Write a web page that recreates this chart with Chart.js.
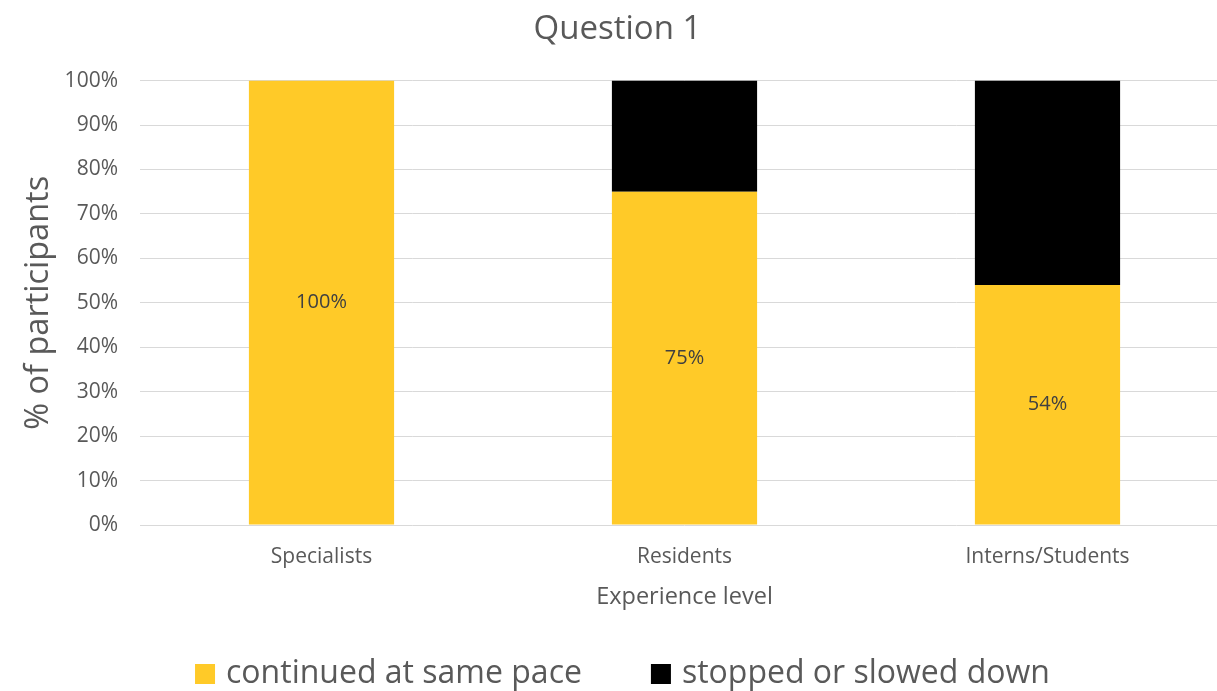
<!DOCTYPE html>
<html>
<head>
<meta charset="utf-8">
<script src="https://cdn.jsdelivr.net/npm/chart.js@4/dist/chart.umd.min.js"></script>
<style>
  html, body { margin: 0; padding: 0; background: #fff; overflow: hidden; }
  #wrap { width: 1229px; height: 691px; }
</style>
</head>
<body>
<div id="wrap"><canvas id="chart" width="1229" height="691"></canvas></div>
<script>
const categories = ['Specialists', 'Residents', 'Interns/Students'];
const continuedSamePace = [100, 75, 54];
const stoppedOrSlowed = [0, 25, 46];
const yTicks = [0, 10, 20, 30, 40, 50, 60, 70, 80, 90, 100];

const FONT = '"Open Sans", Lato, sans-serif';
const TEXT = '#595959';

// Writes each yellow segment's value in its middle
const segmentLabels = {
  id: 'segmentLabels',
  afterDatasetsDraw(chart) {
    const ctx = chart.ctx;
    const meta = chart.getDatasetMeta(0);
    ctx.save();
    ctx.font = '20px ' + FONT;
    ctx.fillStyle = '#404040';
    ctx.textAlign = 'center';
    ctx.textBaseline = 'middle';
    meta.data.forEach((bar, i) => {
      const v = continuedSamePace[i];
      if (!v) return;
      const { x, y, base } = bar.getProps(['x', 'y', 'base'], true);
      ctx.fillText(v + '%', x, (y + base) / 2);
    });
    ctx.restore();
  }
};

// Legend row along the bottom: square swatch, then the series name
const bottomLegend = {
  id: 'bottomLegend',
  afterDraw(chart) {
    const ctx = chart.ctx;
    const box = 20, textGap = 11, itemGap = 69, cy = 674;
    ctx.save();
    ctx.font = '32px ' + FONT;
    ctx.textBaseline = 'middle';
    ctx.textAlign = 'left';
    const items = chart.data.datasets.map(ds => ({
      text: ds.label, color: ds.backgroundColor, w: box + textGap + ctx.measureText(ds.label).width
    }));
    const total = items.reduce((s, it) => s + it.w, 0) + itemGap * (items.length - 1);
    let x = chart.width / 2 + 8 - total / 2;
    items.forEach(it => {
      ctx.fillStyle = it.color;
      ctx.fillRect(x, cy - box / 2, box, box);
      ctx.fillStyle = TEXT;
      ctx.fillText(it.text, x + box + textGap, cy);
      x += it.w + itemGap;
    });
    ctx.restore();
  }
};

new Chart(document.getElementById('chart'), {
  type: 'bar',
  data: {
    labels: categories,
    datasets: [
      { label: 'continued at same pace', data: continuedSamePace, backgroundColor: '#FFCA28' },
      { label: 'stopped or slowed down', data: stoppedOrSlowed, backgroundColor: '#000000' }
    ]
  },
  options: {
    responsive: false,
    animation: false,
    layout: { padding: { top: 6, bottom: 80, left: 6, right: 0 } },
    datasets: { bar: { categoryPercentage: 1, barPercentage: 0.4 } },
    scales: {
      x: {
        stacked: true,
        afterFit(axis) { axis.height = 86; },
        grid: { display: false, drawTicks: false },
        border: { display: false },
        ticks: { color: TEXT, font: { family: FONT, size: 21 }, padding: 19 },
        title: { display: true, text: 'Experience level', color: TEXT, font: { family: FONT, size: 23.5 }, padding: { top: 0, bottom: 0 } }
      },
      y: {
        stacked: true,
        min: 0, max: 100,
        afterBuildTicks(axis) { axis.ticks = yTicks.map(v => ({ value: v })); },
        afterFit(axis) { axis.width = 134; },
        grid: { color: '#D9D9D9', lineWidth: 1, drawTicks: false },
        border: { display: false },
        ticks: { color: TEXT, font: { family: FONT, size: 21 }, padding: 22, callback: v => v + '%' },
        title: { display: true, text: '% of participants', color: TEXT, font: { family: FONT, size: 32.5 }, padding: { top: 13, bottom: 8 } }
      }
    },
    plugins: {
      title: { display: true, text: 'Question 1', color: TEXT, font: { family: FONT, size: 33, weight: 'normal' }, padding: { top: 4, bottom: 31 } },
      legend: { display: false },
      tooltip: { enabled: false }
    }
  },
  plugins: [segmentLabels, bottomLegend]
});
</script>
</body>
</html>
